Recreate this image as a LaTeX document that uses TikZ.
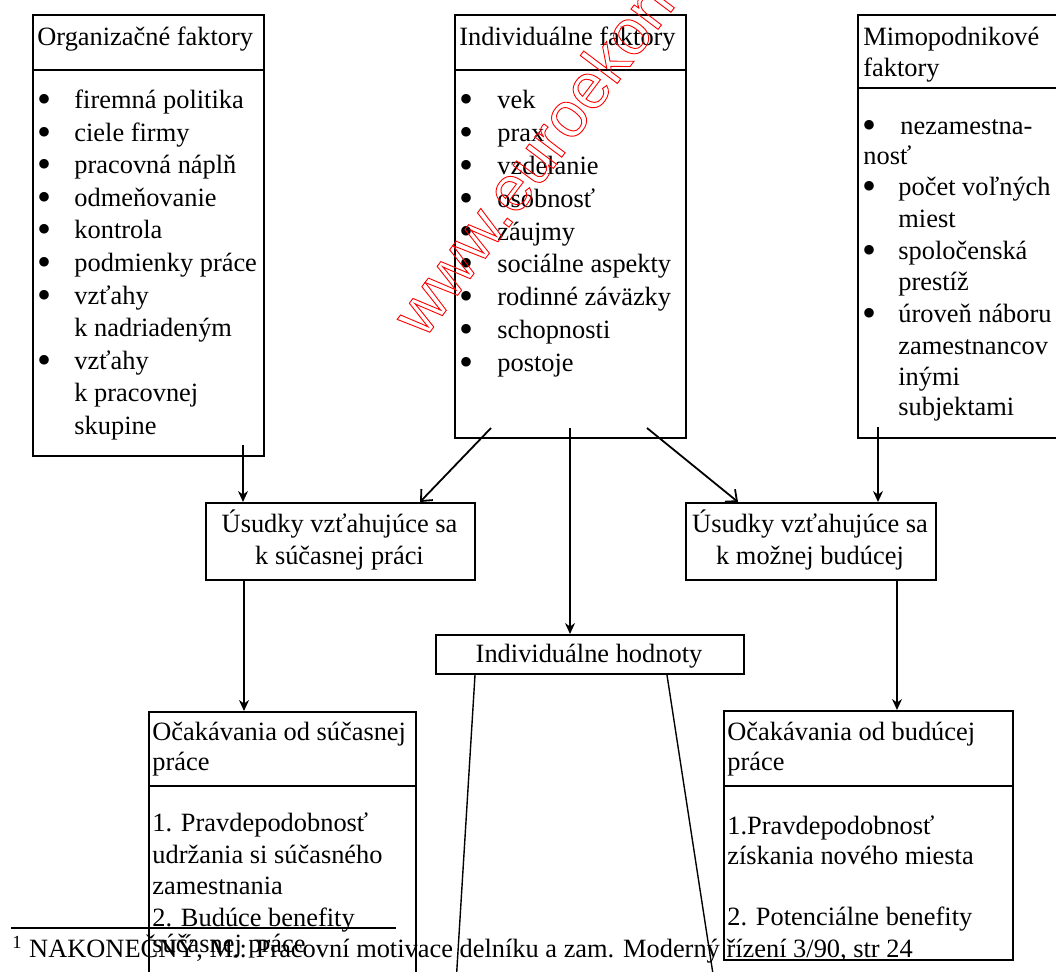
\documentclass[tikz,border=0pt]{standalone}
\usepackage{fontspec}
\setmainfont{Liberation Serif}
\newfontfamily\wmfont{Liberation Sans}
\usetikzlibrary{arrows.meta}
\newcommand\outl[1]{\special{pdf:literal direct 1 Tr 0.45 w}#1\special{pdf:literal direct 0 Tr}}
\newcommand\fs{\fontsize{13.2pt}{16pt}\selectfont}
\newcommand\bul{\raisebox{-2pt}{\fontsize{20pt}{20pt}\selectfont\textbullet}}
\begin{document}
\begin{tikzpicture}[x=0.5pt,y=-0.5pt,
  box/.style={draw, line width=1pt, inner sep=0pt, anchor=north west},
  divider/.style={line width=1pt},
  txt/.style={anchor=base west, inner sep=0pt, font=\fs},
  ctxt/.style={anchor=base, inner sep=0pt, font=\fs},
  varrow/.style={line width=0.7pt, -{Stealth[length=5.5pt,width=5pt]}},
  darrow/.style={line width=0.9pt, -{Straight Barb[length=4.5pt,width=8pt]}},
  plain/.style={line width=0.7pt}]
\useasboundingbox (0,0) rectangle (1056,971);

% ---- boxes
\node[box, minimum width=115.5pt, minimum height=220.5pt] (org) at (32,14) {};
\node[box, minimum width=115.5pt, minimum height=211.5pt] (ind) at (454,14) {};
\node[box, minimum width=112pt, minimum height=211.5pt] (mim) at (857,14) {};
\node[box, minimum width=134.5pt, minimum height=38.5pt] (us1) at (205,502) {};
\node[box, minimum width=125pt, minimum height=38.5pt] (us2) at (685,502) {};
\node[box, minimum width=154pt, minimum height=19.5pt] (ih) at (435,634) {};
\node[box, minimum width=133.5pt, minimum height=150pt] (oc1) at (148,711) {};
\node[box, minimum width=144.5pt, minimum height=124.5pt] (oc2) at (723,710) {};

% ---- dividers
\draw[divider] (org.west |- 0,70) -- (org.east |- 0,70);
\draw[divider] (ind.west |- 0,70) -- (ind.east |- 0,70);
\draw[divider] (mim.west |- 0,88) -- (mim.east |- 0,88);
\draw[divider] (oc1.west |- 0,786) -- (oc1.east |- 0,786);
\draw[divider] (oc2.west |- 0,786) -- (oc2.east |- 0,786);

% ---- headers
\node[txt] (orgh) at (37,45) {Organizačné faktory};
\node[txt] (indh) at (459,45) {Individuálne faktory};
\node[txt] (mimh1) at (863,45) {Mimopodnikové};
\node[txt] (mimh2) at (863,76) {faktory};

% ---- organizacne faktory list
\foreach \t/\y [count=\i] in {firemná politika/108, ciele firmy/141, pracovná náplň/173,
  odmeňovanie/206, kontrola/238, podmienky práce/271, vzťahy/304, k nadriadeným/336,
  vzťahy/369, k pracovnej/401, skupine/434}
  \node[txt] (ot\i) at (74,\y) {\t};
\foreach \y [count=\i] in {108,141,173,206,238,271,304,369}
  \node[txt] (ob\i) at (37,\y) {\bul};

% ---- individualne faktory list
\foreach \t/\y [count=\i] in {vek/108, prax/141, vzdelanie/174, osobnosť/207, záujmy/240,
  sociálne aspekty/272, rodinné záväzky/305, schopnosti/338, postoje/371}
  {\node[txt] (it\i) at (497,\y) {\t};
   \node[txt] (ib\i) at (459,\y) {\bul};}

% ---- mimopodnikove faktory list
\node[txt] (mt1) at (900,134) {nezamestna-};
\node[txt] (mt2) at (863,164) {nosť};
\node[txt] (mt3) at (898,195) {počet voľných};
\node[txt] (mt4) at (898,227) {miest};
\node[txt] (mt5) at (898,259) {spoločenská};
\node[txt] (mt6) at (898,290) {prestíž};
\node[txt] (mt7) at (898,322) {úroveň náboru};
\node[txt] (mt8) at (898,354) {zamestnancov};
\node[txt] (mt9) at (898,385) {inými};
\node[txt] (mt10) at (898,415) {subjektami};
\foreach \y [count=\i] in {134,195,259,322}
  \node[txt] (mb\i) at (862,\y) {\bul};

% ---- middle boxes text
\node[ctxt] (us1a) at (339.5,532) {Úsudky vzťahujúce sa};
\node[ctxt] (us1b) at (339.5,564) {k súčasnej práci};
\node[ctxt] (us2a) at (810,532) {Úsudky vzťahujúce sa};
\node[ctxt] (us2b) at (810,564) {k možnej budúcej};
\node[ctxt] (iht) at (589,662) {Individuálne hodnoty};

% ---- bottom boxes text
\node[txt] (c1a) at (152,740) {Očakávania od súčasnej};
\node[txt] (c1b) at (152,770) {práce};
\node[txt] (c1c) at (152,831) {1. Pravdepodobnosť};
\node[txt] (c1d) at (152,863) {udržania si súčasného};
\node[txt] (c1e) at (152,894) {zamestnania};
\node[txt] (c1f) at (152,926) {2. Budúce benefity};
\node[txt] (c1g) at (152,952) {súčasnej práce};

\node[txt] (c2a) at (727,740) {Očakávania od budúcej};
\node[txt] (c2b) at (727,770) {práce};
\node[txt] (c2c) at (727,834) {1.Pravdepodobnosť};
\node[txt] (c2d) at (727,864) {získania nového miesta};
\node[txt] (c2e) at (727,925) {2. Potenciálne benefity};

% ---- connectors
\coordinate (oS) at (243,445);
\draw[varrow] (oS) -- (oS |- us1.north);
\coordinate (iL) at (491,428);
\coordinate (iM) at (570,428);
\coordinate (iR) at (647,428);
\path (us1.north west) ++(215,0) coordinate (u1in);
\path (us2.north west) ++(53,0) coordinate (u2in);
\draw[darrow] (iL) -- (u1in);
\draw[darrow] (iR) -- (u2in);
\draw[varrow] (iM) -- (iM |- ih.north);
\coordinate (mS) at (878,427);
\draw[varrow] (mS) -- (mS |- us2.north);
\path (us1.south west) ++(39,0) coordinate (u1S);
\draw[varrow] (u1S) -- (u1S |- oc1.north);
\path (us2.south west) ++(212,0) coordinate (u2S);
\draw[varrow] (u2S) -- (u2S |- oc2.north);
\path (ih.south west) ++(40,0) coordinate (h1);
\path (ih.south west) ++(232,0) coordinate (h2);
\coordinate (h1e) at (455,1000);
\coordinate (h2e) at (717,1000);
\draw[plain] (h1) -- (h1e);
\draw[plain] (h2) -- (h2e);

% ---- footnote
\coordinate (fr1) at (11,928);
\coordinate (fr2) at (396,928);
\draw[plain] (fr1) -- (fr2);
\node[txt] (fn) at (12,957) {\textsuperscript{1} NAKONEČNÝ, M.: Pracovní motivace delníku a zam. Moderný řízení 3/90, str 24};

% ---- watermark
\node[anchor=base west, rotate=53, inner sep=0pt, red,
  font=\wmfont\fontsize{32pt}{33pt}\selectfont] (wm) at (424,340) {\outl{www.euroekonom.sk}};
\end{tikzpicture}
\end{document}
